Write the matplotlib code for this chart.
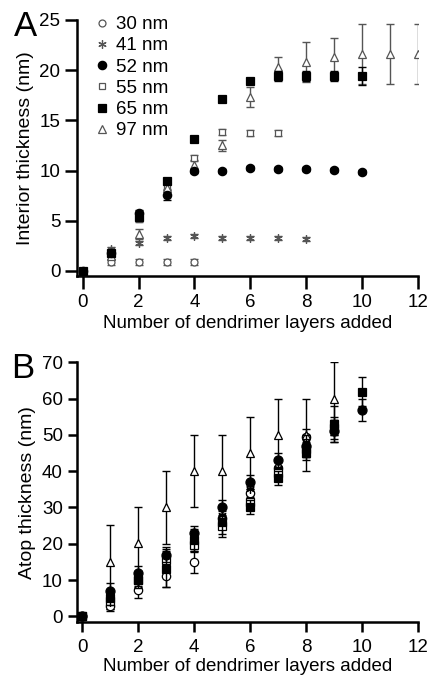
import matplotlib
matplotlib.use("Agg")
import matplotlib.pyplot as plt
import numpy as np

plt.rcParams['font.family'] = ['Liberation Sans', 'DejaVu Sans']

# ---- Panel A: interior thickness (nm) ----
sizes = ['30 nm', '41 nm', '52 nm', '55 nm', '65 nm', '97 nm']

a_x30 = [0, 1, 2, 3, 4]
a_y30 = [0, 0.85, 0.9, 0.9, 0.9]
a_e30 = [0.2, 0.3, 0.3, 0.3, 0.3]

a_x41 = [0, 1, 2, 3, 4, 5, 6, 7, 8]
a_y41 = [0, 2.2, 2.8, 3.3, 3.5, 3.3, 3.3, 3.3, 3.2]
a_e41 = [0.2, 0.2, 0.2, 0.2, 0.2, 0.2, 0.2, 0.2, 0.2]

a_x52 = [0, 1, 2, 3, 4, 5, 6, 7, 8, 9, 10]
a_y52 = [0, 1.8, 5.8, 7.55, 10.0, 10.0, 10.3, 10.2, 10.2, 10.1, 9.9]
a_e52 = [0.2, 0.3, 0.3, 0.5, 0.2, 0.2, 0.2, 0.2, 0.2, 0.2, 0.2]

a_x55 = [0, 1, 2, 3, 4, 5, 6, 7]
a_y55 = [0, 1.8, 5.2, 8.5, 11.3, 13.8, 13.7, 13.7]
a_e55 = [0.2, 0.3, 0.3, 0.3, 0.3, 0.3, 0.3, 0.3]

a_x65 = [0, 1, 2, 3, 4, 5, 6, 7, 8, 9, 10]
a_y65 = [0, 1.8, 5.4, 9.0, 13.1, 17.15, 18.95, 19.45, 19.45, 19.45, 19.45]
a_e65 = [0.3, 0.3, 0.3, 0.3, 0.3, 0.3, 0.3, 0.5, 0.5, 0.5, 0.9]

a_x97 = [0, 1, 2, 3, 4, 5, 6, 7, 8, 9, 10, 11, 12]
a_y97 = [0, 1.5, 3.65, 8.3, 10.6, 12.5, 17.35, 20.3, 20.8, 21.3, 21.6, 21.6, 21.6]
a_e97 = [0.2, 0.3, 0.5, 0.4, 0.5, 0.5, 1.0, 1.0, 2.0, 1.9, 3.0, 3.0, 3.0]

# ---- Panel B: atop thickness (nm) ----
b_x30 = [0, 1, 2, 3, 4, 5, 6, 7, 8]
b_y30 = [0, 2.9, 7.2, 11.0, 15.0, 27.0, 34.0, 41.0, 49.5]
b_e30 = [0.5, 1.5, 2.0, 3.0, 3.0, 2.0, 2.0, 2.0, 2.0]

b_x41 = [0, 1, 2, 3, 4, 5, 6, 7, 8, 9]
b_y41 = [0, 4.0, 10.5, 14.0, 21.0, 28.0, 35.0, 41.0, 48.0, 52.0]
b_e41 = [0.5, 2.0, 2.0, 2.0, 2.0, 2.0, 2.0, 2.0, 2.0, 2.0]

b_x52 = [0, 1, 2, 3, 4, 5, 6, 7, 8, 9, 10]
b_y52 = [0, 7.1, 11.9, 17.0, 22.9, 30.0, 37.0, 43.0, 47.0, 51.1, 56.9]
b_e52 = [0.5, 2.0, 2.0, 2.0, 2.0, 2.0, 2.0, 2.0, 3.0, 3.0, 3.0]

b_x55 = [0, 1, 2, 3, 4, 5, 6, 7, 8, 9]
b_y55 = [0, 4.1, 10.0, 15.6, 19.7, 24.8, 31.4, 39.4, 46.0, 52.0]
b_e55 = [0.5, 2.0, 2.0, 3.0, 2.0, 2.0, 2.0, 2.0, 2.0, 3.0]

b_x65 = [0, 1, 2, 3, 4, 5, 6, 7, 8, 9, 10]
b_y65 = [0, 5.0, 9.9, 13.0, 21.1, 26.0, 30.1, 38.1, 45.0, 53.0, 61.9]
b_e65 = [0.5, 2.0, 2.0, 5.0, 3.0, 4.0, 2.0, 2.0, 2.0, 5.0, 4.0]

b_x97 = [0, 1, 2, 3, 4, 5, 6, 7, 8, 9]
b_y97 = [0, 15.1, 20.2, 30.0, 40.0, 40.0, 45.0, 50.0, 50.0, 60.0]
b_e97 = [0.5, 10, 10, 10, 10, 10, 10, 10, 10, 10]

GRAY = '#555555'
BLACK = '#000000'

fig = plt.figure(figsize=(4.29, 6.75), dpi=100)
axA = fig.add_axes([77 / 429, 1 - 275.5 / 675, (418.3 - 77) / 429, (275.5 - 20) / 675])
axB = fig.add_axes([76.7 / 429, 1 - 622 / 675, (418.3 - 76.7) / 429, (622 - 362.3) / 675])


def draw(ax, x, y, e, marker, filled, color, ms, label=None, z=3):
    ax.errorbar(x, y, yerr=e, fmt='none', ecolor=color, elinewidth=1,
                capsize=2.8, capthick=1, zorder=z - 1)
    ax.plot(x, y, linestyle='none', marker=marker, ms=ms,
            mfc=color if filled else 'white', mec=color, mew=0.9,
            label=label, zorder=z)


def style(ax, ymax, ymin, yticks, ylabel, xlen, ylen, xpad, lpad):
    ax.set_xlim(-0.2, 12)
    ax.set_ylim(ymin, ymax)
    ax.set_xticks(range(0, 13, 2))
    ax.set_yticks(yticks)
    for s in ['top', 'right']:
        ax.spines[s].set_visible(False)
    for s in ['left', 'bottom']:
        ax.spines[s].set_linewidth(1.8)
    ax.tick_params(direction='out', width=1.8, labelsize=13.5)
    ax.tick_params(axis='x', length=xlen, pad=xpad)
    ax.tick_params(axis='y', length=ylen, pad=3.5)
    ax.set_xlabel('Number of dendrimer layers added', fontsize=13.5, labelpad=lpad)
    ax.set_ylabel(ylabel, fontsize=14, labelpad=4)


# panel A (open markers in gray)
draw(axA, a_x30, a_y30, a_e30, 'o', False, GRAY, 5, sizes[0])
draw(axA, a_x41, a_y41, a_e41, (6, 2, 0), False, GRAY, 6, sizes[1])
draw(axA, a_x52, a_y52, a_e52, 'o', True, BLACK, 6, sizes[2], z=4)
draw(axA, a_x55, a_y55, a_e55, 's', False, GRAY, 5, sizes[3])
draw(axA, a_x65, a_y65, a_e65, 's', True, BLACK, 5.5, sizes[4], z=5)
draw(axA, a_x97, a_y97, a_e97, '^', False, GRAY, 6, sizes[5])
style(axA, 25, -0.45, [0, 5, 10, 15, 20, 25], 'Interior thickness (nm)', 9, 8.5, 4, 3)
leg = axA.legend(loc='upper left', bbox_to_anchor=(0.035, 1.045), frameon=False,
                 fontsize=13.5, handlelength=0.6, handletextpad=0.45,
                 labelspacing=0.22, borderaxespad=0)

# panel B
draw(axB, b_x30, b_y30, b_e30, 'o', False, BLACK, 6)
draw(axB, b_x41, b_y41, b_e41, (6, 2, 0), False, BLACK, 6)
draw(axB, b_x55, b_y55, b_e55, 's', False, BLACK, 6)
draw(axB, b_x97, b_y97, b_e97, '^', False, BLACK, 6)
draw(axB, b_x52, b_y52, b_e52, 'o', True, BLACK, 6.5, z=4)
draw(axB, b_x65, b_y65, b_e65, 's', True, BLACK, 6, z=5)
style(axB, 70, -1.55, range(0, 71, 10), 'Atop thickness (nm)', 7, 6.5, 5.5, 1)

fig.text(25 / 429, 1 - 27 / 675, 'A', fontsize=25, ha='center', va='center')
fig.text(23 / 429, 1 - 368 / 675, 'B', fontsize=25, ha='center', va='center')

fig.savefig('out.png', dpi=100)
